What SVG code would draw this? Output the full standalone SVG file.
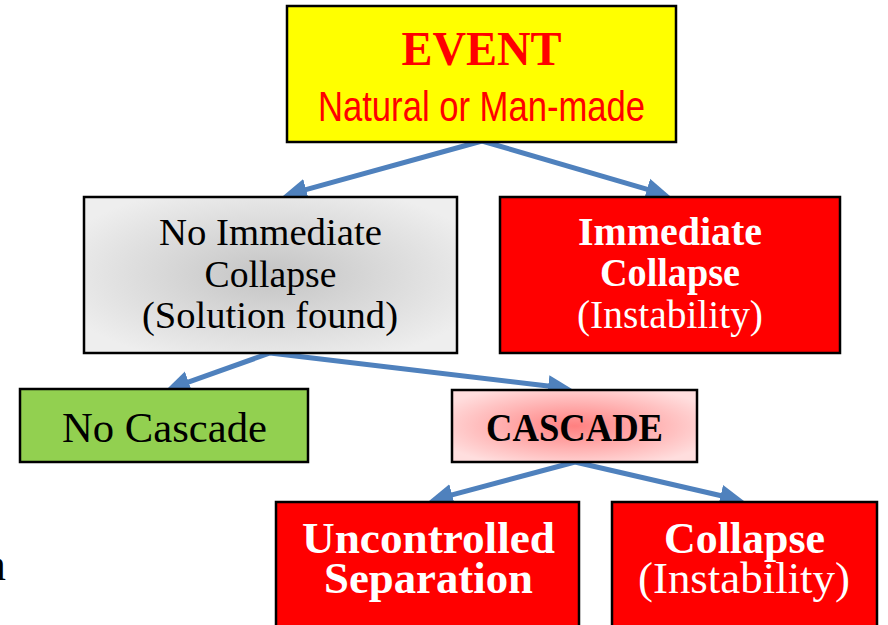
<svg xmlns="http://www.w3.org/2000/svg" width="888" height="625" viewBox="0 0 888 625">
<style>
.box{stroke:#000;stroke-width:2.5}
.serif{font-family:"Liberation Serif","DejaVu Serif",serif}
.b{font-weight:bold}
.w{fill:#fff}
.k{fill:#000}
.conn line{stroke:#4F81BD;stroke-width:5;marker-end:url(#ah)}
</style>
<defs>
<marker id="ah" markerUnits="userSpaceOnUse" markerWidth="26" markerHeight="24" viewBox="0 -12 26 24" refX="4" refY="0" orient="auto">
<path d="M0,-11 L24,0 L0,11 z" fill="#4F81BD"/>
</marker>
<radialGradient id="gray" cx="50%" cy="50%" r="60%">
<stop offset="0" stop-color="#C4C4C4"/>
<stop offset="1" stop-color="#EEEEEE"/>
</radialGradient>
<radialGradient id="pink" cx="50%" cy="50%" r="60%">
<stop offset="0" stop-color="#FF8080"/>
<stop offset="1" stop-color="#FFDEDE"/>
</radialGradient>
</defs>

<g class="conn">
<line x1="482" y1="141" x2="302.3" y2="190.7"/>
<line x1="482" y1="141" x2="650.8" y2="190.4"/>
<line x1="270" y1="353" x2="184.8" y2="383.3"/>
<line x1="270" y1="353" x2="552.1" y2="386.6"/>
<line x1="575" y1="462" x2="448.3" y2="495.8"/>
<line x1="575" y1="462" x2="724.5" y2="496.5"/>
</g>

<g id="event">
<rect class="box" x="287" y="6" width="389" height="136" fill="#FFFF00"/>
<text class="serif b" x="481.5" y="65" font-size="48" text-anchor="middle" fill="#FF0000" textLength="160" lengthAdjust="spacingAndGlyphs">EVENT</text>
<text x="481.5" y="121" font-family="'Liberation Sans Narrow','Liberation Sans',Arial,sans-serif" font-size="42" text-anchor="middle" fill="#FF0000" textLength="327" lengthAdjust="spacingAndGlyphs">Natural or Man-made</text>
</g>

<g id="no-immediate-collapse">
<rect class="box" x="84" y="197" width="373" height="156" fill="url(#gray)"/>
<text class="serif k" x="270.5" y="245" font-size="38" text-anchor="middle" textLength="223" lengthAdjust="spacingAndGlyphs">No Immediate</text>
<text class="serif k" x="270.5" y="287" font-size="38" text-anchor="middle" textLength="132" lengthAdjust="spacingAndGlyphs">Collapse</text>
<text class="serif k" x="270" y="328" font-size="38" text-anchor="middle" textLength="256" lengthAdjust="spacingAndGlyphs">(Solution found)</text>
</g>

<g id="immediate-collapse">
<rect class="box" x="500" y="197" width="340" height="156" fill="#FF0000"/>
<text class="serif b w" x="670" y="245" font-size="40" text-anchor="middle" textLength="184" lengthAdjust="spacingAndGlyphs">Immediate</text>
<text class="serif b w" x="670" y="286" font-size="40" text-anchor="middle" textLength="140" lengthAdjust="spacingAndGlyphs">Collapse</text>
<text class="serif w" x="670" y="328" font-size="39" text-anchor="middle" textLength="186" lengthAdjust="spacingAndGlyphs">(Instability)</text>
</g>

<g id="no-cascade">
<rect class="box" x="20" y="389" width="288" height="73" fill="#92D050"/>
<text class="serif k" x="164.5" y="442" font-size="42" text-anchor="middle" textLength="205" lengthAdjust="spacingAndGlyphs">No Cascade</text>
</g>

<g id="cascade">
<rect class="box" x="452" y="390" width="245" height="72" fill="url(#pink)"/>
<text class="serif b k" x="574.5" y="441" font-size="40" text-anchor="middle" textLength="177" lengthAdjust="spacingAndGlyphs">CASCADE</text>
</g>

<g id="uncontrolled-separation">
<rect class="box" x="276" y="502" width="303" height="130" fill="#FF0000"/>
<text class="serif b w" x="428.5" y="553" font-size="44" text-anchor="middle" textLength="253" lengthAdjust="spacingAndGlyphs">Uncontrolled</text>
<text class="serif b w" x="428.5" y="593" font-size="44" text-anchor="middle" textLength="209" lengthAdjust="spacingAndGlyphs">Separation</text>
</g>

<g id="collapse">
<rect class="box" x="612" y="502" width="265" height="130" fill="#FF0000"/>
<text class="serif b w" x="744.5" y="553" font-size="44" text-anchor="middle" textLength="161" lengthAdjust="spacingAndGlyphs">Collapse</text>
<text class="serif w" x="744" y="593" font-size="44" text-anchor="middle" textLength="212" lengthAdjust="spacingAndGlyphs">(Instability)</text>
</g>

<text class="serif k" x="6" y="580" font-size="46" text-anchor="end">n</text>
</svg>
